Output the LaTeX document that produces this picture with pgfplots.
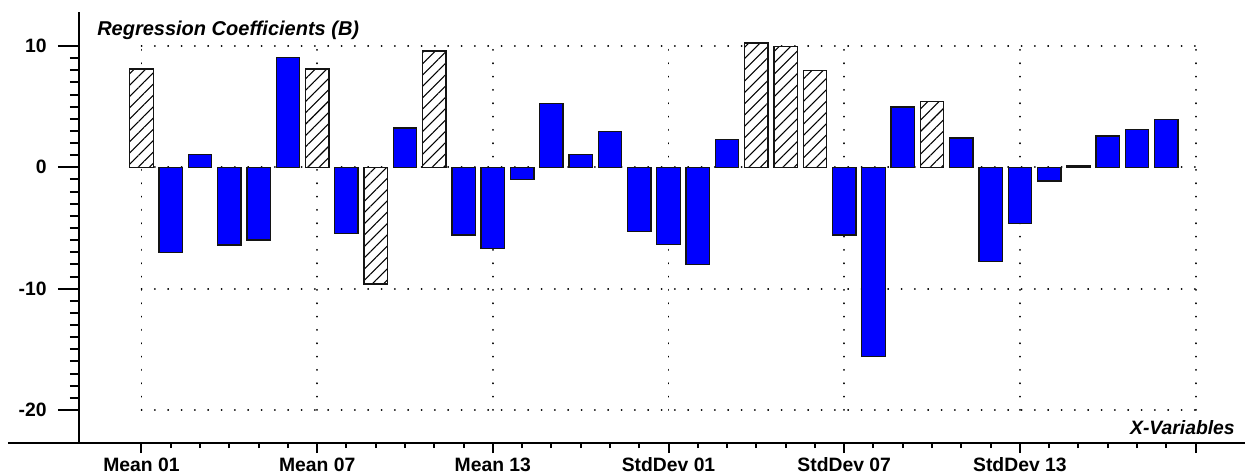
\documentclass[border=0pt]{standalone}
\usepackage{fontspec}
\setmainfont{Liberation Sans}
\usepackage{pgfplots}
\pgfplotsset{compat=1.18}
\usetikzlibrary{patterns.meta}

\definecolor{barblue}{RGB}{0,0,255}
\definecolor{edge}{RGB}{20,20,20}
\newcommand{\lblfont}{\bfseries\fontsize{14.5}{16}\selectfont}

\begin{document}
\begin{tikzpicture}
\begin{axis}[
  name=ax,
  width=874.5pt, height=323.25pt, scale only axis,
  xmin=-2.134, xmax=37.688,
  ymin=-22.72, ymax=12.80,
  axis x line*=bottom, axis y line*=left,
  axis line style={line width=1.5pt, -},
  x axis line style={shorten <=-53.25pt},
  tick align=outside,
  tick style={line width=1.5pt, black},
  xtick={0,6,...,36},
  xticklabels={Mean 01,Mean 07,Mean 13,StdDev 01,StdDev 07,StdDev 13,{}},
  minor x tick num=5,
  ytick={-20,-10,0,10},
  yticklabels={-20,-10,0,10},
  minor y tick num=9,
  xtick style={/pgfplots/major tick length=7.5pt,/pgfplots/minor tick length=3.75pt},
  ytick style={/pgfplots/major tick length=15.75pt,/pgfplots/minor tick length=6.75pt},
  ticklabel style={font=\lblfont},
  xticklabel style={yshift=-3.2pt},
  yticklabel style={xshift=-16.5pt},
  xlabel={X-Variables},
  ylabel={Regression Coefficients (B)},
  every axis x label/.style={at={(rel axis cs:1,0)}, anchor=east, inner sep=0pt,
    xshift=-7.5pt, yshift=11.25pt, font=\lblfont\itshape},
  every axis y label/.style={at={(rel axis cs:0,1)}, anchor=west, inner sep=0pt,
    xshift=13.5pt, yshift=-13.5pt, font=\bfseries\itshape\fontsize{15}{16}\selectfont},
  dotgrid/.style={black, line width=1.4pt, line cap=round,
    dash pattern=on 0.1pt off 9.9pt, forget plot, mark=none},
  coefbar/.style={ybar, bar width=0.8, bar shift=0pt, draw=edge, line width=1pt},
]
% dotted reference grid (-20..10, first to last variable)
\addplot[dotgrid] coordinates {(0,10) (36,10)};
\addplot[dotgrid] coordinates {(0,0) (36,0)};
\addplot[dotgrid] coordinates {(0,-10) (36,-10)};
\addplot[dotgrid] coordinates {(0,-20) (36,-20)};
\addplot[dotgrid] coordinates {(0,-20) (0,10)};
\addplot[dotgrid] coordinates {(6,-20) (6,10)};
\addplot[dotgrid] coordinates {(12,-20) (12,10)};
\addplot[dotgrid] coordinates {(18,-20) (18,10)};
\addplot[dotgrid] coordinates {(24,-20) (24,10)};
\addplot[dotgrid] coordinates {(30,-20) (30,10)};
\addplot[dotgrid] coordinates {(36,-20) (36,10)};

% regular coefficients
\addplot[coefbar, fill=barblue] coordinates {
  (1,-7.04) (2,1.07) (3,-6.40) (4,-6.00) (5,9.03) (7,-5.44) (9,3.24)
  (11,-5.58) (12,-6.68) (13,-0.99) (14,5.24) (15,1.07) (16,2.97)
  (17,-5.31) (18,-6.35) (19,-8.00) (20,2.27) (24,-5.58) (25,-15.61)
  (26,4.97) (28,2.41) (29,-7.78) (30,-4.62) (31,-1.13) (32,0.12)
  (33,2.58) (34,3.10) (35,3.92)
};
% hatched coefficients
\addplot[coefbar, fill=white,
  postaction={pattern color=black,
    pattern={Lines[angle=45,distance=6pt,line width=0.8pt]}}] coordinates {
  (0,8.10) (6,8.10) (8,-9.62) (10,9.59) (21,10.24) (22,9.97) (23,7.96) (27,5.41)
};
\end{axis}
\pgfresetboundingbox
\path[use as bounding box] ([shift={(-59.25pt,-24pt)}]ax.south west)
  rectangle ([shift={(0pt,9pt)}]ax.north east);
\end{tikzpicture}
\end{document}
